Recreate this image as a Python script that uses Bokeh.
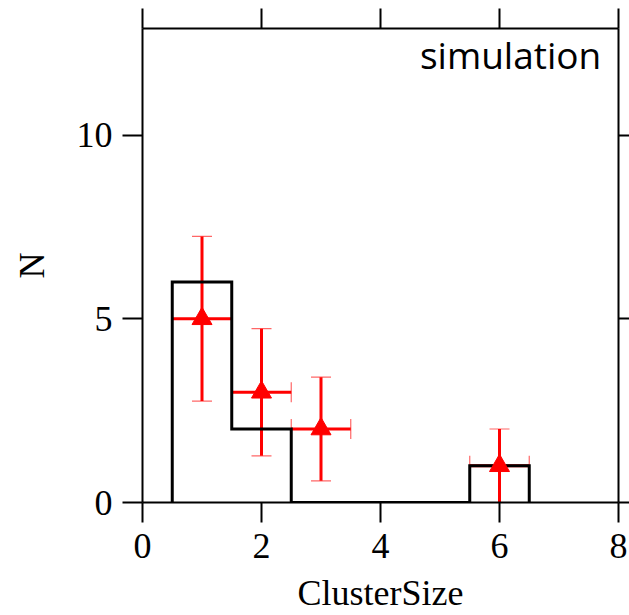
from bokeh.plotting import figure
from bokeh.models import Range1d, LinearAxis, FixedTicker, Whisker, TeeHead, ColumnDataSource, Label
from bokeh.embed import file_html
from bokeh.resources import INLINE

# ---- data ----
bin_edges = [0.5, 1.5, 2.5, 3.5, 4.5, 5.5, 6.5]
sim_counts = [6, 2, 0, 0, 0, 1]
data_x = [1, 2, 3, 6]
data_y = [5, 3, 2, 1]
data_xerr = [0.5, 0.5, 0.5, 0.5]
data_yerr = [2.24, 1.73, 1.41, 1.0]
x_ticks = [0, 2, 4, 6, 8]
y_ticks = [0, 5, 10]
x_label = "ClusterSize"
y_label = "N"
tag_text = "simulation"

SERIF = "Liberation Serif"

p = figure(width=629, height=615, x_range=Range1d(0, 8), y_range=Range1d(0, 12.9),
           output_backend="svg", toolbar_location=None,
           min_border_left=142, min_border_right=11, min_border_top=28, min_border_bottom=113,
           x_axis_label=x_label, y_axis_label=y_label)
p.grid.visible = False
p.outline_line_color = None
p.background_fill_color = "white"
p.border_fill_color = "white"

for ax, ticks in ((p.xaxis[0], x_ticks), (p.yaxis[0], y_ticks)):
    ax.ticker = FixedTicker(ticks=ticks)
    ax.minor_tick_line_color = None
    ax.major_tick_in = 0
    ax.major_tick_out = 20
    ax.major_tick_line_width = 2
    ax.axis_line_width = 2
    ax.axis_line_color = "black"
    ax.major_tick_line_color = "black"
    ax.major_label_text_font = SERIF
    ax.major_label_text_font_size = "36px"
    ax.major_label_text_color = "black"
    ax.axis_label_text_font = SERIF
    ax.axis_label_text_font_size = "36px"
    ax.axis_label_text_font_style = "normal"
    ax.axis_label_text_color = "black"

p.xaxis[0].major_label_standoff = 11
p.xaxis[0].axis_label_standoff = 12
p.yaxis[0].major_label_standoff = 10
p.yaxis[0].axis_label_standoff = 22

top = LinearAxis(ticker=FixedTicker(ticks=x_ticks),
                 major_label_overrides={t: "" for t in x_ticks},
                 major_label_standoff=0, major_tick_in=0, major_tick_out=20,
                 major_tick_line_width=2, axis_line_width=2, minor_tick_line_color=None)
right = LinearAxis(ticker=FixedTicker(ticks=y_ticks),
                   major_label_overrides={t: "" for t in y_ticks},
                   major_label_standoff=0, major_tick_in=0, major_tick_out=11,
                   major_tick_line_width=2, axis_line_width=2, minor_tick_line_color=None)
p.add_layout(top, "above")
p.add_layout(right, "right")

# histogram outline (step)
hx = [bin_edges[0]]
hy = [0]
for i, c in enumerate(sim_counts):
    hx += [bin_edges[i], bin_edges[i + 1]]
    hy += [c, c]
hx.append(bin_edges[-1])
hy.append(0)
p.line(hx, hy, line_color="black", line_width=3, line_join="miter")

# data points with error bars
src = ColumnDataSource(dict(
    x=data_x, y=data_y,
    ylo=[y - e for y, e in zip(data_y, data_yerr)],
    yhi=[y + e for y, e in zip(data_y, data_yerr)],
    xlo=[x - e for x, e in zip(data_x, data_xerr)],
    xhi=[x + e for x, e in zip(data_x, data_xerr)],
))

def head():
    return TeeHead(size=20, line_color="red", line_width=1.2, line_alpha=0.6)

wy = Whisker(base="x", lower="ylo", upper="yhi", dimension="height", source=src,
             line_color="red", line_width=3, upper_head=head(), lower_head=head())
wx = Whisker(base="y", lower="xlo", upper="xhi", dimension="width", source=src,
             line_color="red", line_width=3, upper_head=head(), lower_head=head())
p.add_layout(wy)
p.add_layout(wx)
p.scatter("x", "y", source=src, marker="triangle", size=20, fill_color="red", line_color="red")

p.add_layout(Label(x=7.71, y=12.18, text=tag_text, text_align="right", text_baseline="alphabetic",
                   text_font="Open Sans", text_font_size="37px", text_color="black"))

open("out.html", "w").write(file_html(p, INLINE))
